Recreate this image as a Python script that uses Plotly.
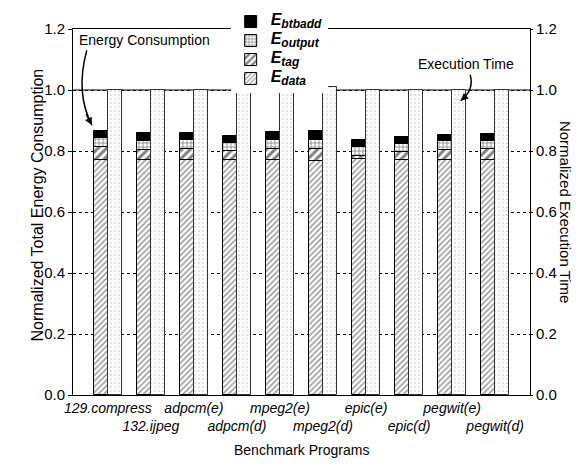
import plotly.graph_objects as go

categories = ["129.compress", "132.ijpeg", "adpcm(e)", "adpcm(d)", "mpeg2(e)",
              "mpeg2(d)", "epic(e)", "epic(d)", "pegwit(e)", "pegwit(d)"]
e_data = [0.771, 0.771, 0.771, 0.771, 0.771, 0.768, 0.774, 0.771, 0.771, 0.771]
e_tag = [0.041, 0.033, 0.036, 0.030, 0.037, 0.040, 0.011, 0.025, 0.033, 0.035]
e_output = [0.031, 0.030, 0.029, 0.025, 0.029, 0.029, 0.027, 0.028, 0.028, 0.028]
e_btbadd = [0.024, 0.025, 0.023, 0.022, 0.024, 0.027, 0.025, 0.022, 0.021, 0.021]
exec_time = [1.0, 1.0, 1.0, 1.0, 1.0, 1.01, 1.0, 1.0, 1.0, 1.0]
y_ticks = [0.0, 0.2, 0.4, 0.6, 0.8, 1.0, 1.2]

FONT = "Liberation Sans, Arial, sans-serif"
xs = list(range(len(categories)))
BW = 0.32

fig = go.Figure()

def leg(sub):
    return ("<b><i><span style='font-size:16px'>E</span>"
            "<sub><span style='font-size:12px'>" + sub + "</span></sub></i></b>")

series = [
    ("data", e_data, dict(shape="/", size=4, solidity=0.45, fgcolor="#444", bgcolor="white")),
    ("tag", e_tag, dict(shape="/", size=6, solidity=0.5, fgcolor="black", bgcolor="white")),
    ("output", e_output, dict(shape="+", size=4, solidity=0.35, fgcolor="black", bgcolor="white")),
    ("btbadd", e_btbadd, None),
]
for name, vals, pat in series:
    marker = dict(line=dict(color="black", width=1))
    if pat is None:
        marker["color"] = "black"
    else:
        marker["color"] = "white"
        marker["pattern"] = pat
    fig.add_trace(go.Bar(x=xs, y=vals, name=leg(name), width=BW, offset=-BW,
                         marker=marker, xaxis="x", yaxis="y"))

fig.add_trace(go.Bar(x=xs, y=exec_time, name="Execution Time", width=BW, offset=0,
                     showlegend=False, xaxis="x", yaxis="y2",
                     marker=dict(color="white", line=dict(color="#333", width=1),
                                 pattern=dict(shape=".", size=4, solidity=0.12,
                                              fgcolor="#777", bgcolor="white"))))

tick_text = [("<i>%s</i>" % c) if i % 2 == 0 else ("<br><i>%s</i>" % c)
             for i, c in enumerate(categories)]

yaxis_common = dict(range=[0, 1.2], tickvals=y_ticks,
                    ticktext=["%.1f" % v for v in y_ticks],
                    showline=True, linecolor="black", linewidth=1,
                    ticks="outside", tickcolor="black",
                    tickfont=dict(family=FONT, size=15, color="black"),
                    zeroline=False)

fig.update_layout(
    width=580, height=466,
    margin=dict(l=65, r=58, t=21, b=79, autoexpand=False),
    paper_bgcolor="white", plot_bgcolor="white",
    barmode="relative", bargap=0,
    font=dict(family=FONT, color="black"),
    xaxis=dict(range=[-0.81, 9.81], tickvals=xs, ticktext=tick_text, tickangle=0,
               showline=True, linecolor="black", linewidth=1, mirror=True,
               ticks="", showgrid=False, zeroline=False,
               tickfont=dict(family=FONT, size=14, color="black")),
    yaxis=dict(**yaxis_common, ticklen=4, showgrid=True, gridcolor="black",
               gridwidth=1, griddash="3px,3px"),
    yaxis2=dict(**yaxis_common, ticklen=2, overlaying="y", side="right",
                showgrid=False),
    legend=dict(x=0.345, y=1.06, xanchor="left", yanchor="top",
                bgcolor="white", borderwidth=0, traceorder="reversed",
                tracegroupgap=0, itemwidth=30,
                font=dict(family=FONT, size=10, color="black")),
)

# solid line at 1.0
fig.add_shape(type="line", xref="paper", yref="y", x0=0, x1=1, y0=1.0, y1=1.0,
              line=dict(color="black", width=1), layer="below")

# axis titles
fig.add_annotation(text="Normalized Total Energy Consumption", xref="paper", yref="paper",
                   x=-0.1, y=0.52, textangle=-90, showarrow=False,
                   font=dict(family=FONT, size=16, color="black"))
fig.add_annotation(text="Normalized Execution Time", xref="paper", yref="paper",
                   x=1.102, y=0.5, textangle=90, showarrow=False,
                   font=dict(family=FONT, size=15, color="black"))
fig.add_annotation(text="Benchmark Programs", xref="paper", yref="paper",
                   x=0.5, y=-0.178, showarrow=False,
                   font=dict(family=FONT, size=14, color="black"))

# callouts
fig.add_annotation(text="Energy Consumption", xref="x", yref="y", x=-0.72, y=1.165,
                   xanchor="left", showarrow=False,
                   font=dict(family=FONT, size=14, color="black"))
fig.add_shape(type="path", xref="x", yref="y",
              path="M -0.49,1.13 Q -0.76,0.99 -0.37,0.885",
              line=dict(color="black", width=1.5))
fig.add_annotation(x=-0.37, y=0.885, ax=-0.52, ay=0.925, xref="x", yref="y",
                   axref="x", ayref="y", text="", showarrow=True,
                   arrowhead=2, arrowsize=1, arrowwidth=1.5, arrowcolor="black")

fig.add_annotation(text="Execution Time", xref="x", yref="y", x=8.32, y=1.085,
                   showarrow=False, font=dict(family=FONT, size=14, color="black"))
fig.add_shape(type="path", xref="x", yref="y",
              path="M 8.42,1.05 Q 8.52,1.0 8.2,0.965",
              line=dict(color="black", width=1.5))
fig.add_annotation(x=8.2, y=0.965, ax=8.36, ay=0.985, xref="x", yref="y",
                   axref="x", ayref="y", text="", showarrow=True,
                   arrowhead=2, arrowsize=1, arrowwidth=1.5, arrowcolor="black")

fig.write_html("out.html")
